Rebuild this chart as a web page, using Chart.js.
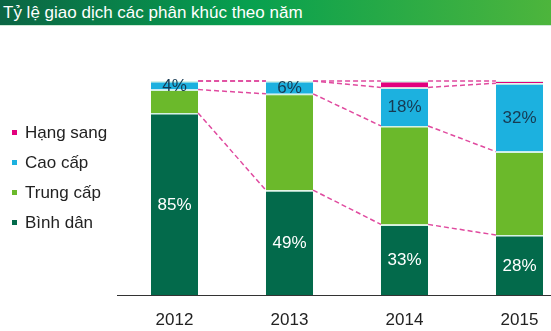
<!DOCTYPE html>
<html>
<head>
<meta charset="utf-8">
<script src="https://cdn.jsdelivr.net/npm/chart.js@4/dist/chart.umd.min.js"></script>
<style>
  html, body { margin: 0; padding: 0; background: #fff; }
  #wrap { position: relative; width: 551px; height: 331px; overflow: hidden; font-family: "Liberation Sans", Arial, sans-serif; }
  #title {
    position: absolute; left: 0; top: 0; width: 551px; height: 26px; z-index: 2;
    background: linear-gradient(to right, #0b6544 0%, #07a04f 45%, #4db53c 100%);
    color: #fff; font-size: 17px; line-height: 26px; padding-left: 3px; box-sizing: border-box;
    border-bottom: 1px solid #cfe9d6;
  }
  #legend { position: absolute; left: 12px; top: 123px; z-index: 2; }
  #legend div { height: 30px; line-height: 20px; font-size: 17px; color: #222; white-space: nowrap; }
  #legend span { display: inline-block; width: 5px; height: 5px; margin-right: 8px; vertical-align: 3px; }
  canvas { position: absolute; left: 0; top: 0; }
</style>
</head>
<body>
<div id="wrap">
  <div id="title">Tỷ lệ giao dịch các phân khúc theo năm</div>
  <div id="legend"></div>
  <canvas id="chart" width="577" height="331"></canvas>
</div>
<script>
const years = ['2012', '2013', '2014', '2015'];
const binhDan = [85, 49, 33, 28];
const trungCap = [11, 45, 46, 39];
const caoCap = [4, 6, 18, 32];
const hangSang = [0, 0, 3, 1];

const seriesNames = ['Bình dân', 'Trung cấp', 'Cao cấp', 'Hạng sang'];
const seriesColors = ['#036a4b', '#6bb92b', '#1cb1df', '#e2007d'];
// which series get a % label, and in which colour
const labelColors = ['#ffffff', null, '#173a52', null];

// legend (top to bottom = reverse stack order)
const legendEl = document.getElementById('legend');
for (let i = seriesNames.length - 1; i >= 0; i--) {
    const row = document.createElement('div');
    row.innerHTML = '<span style="background:' + seriesColors[i] + '"></span>' + seriesNames[i];
    legendEl.appendChild(row);
}

// dashed connectors between cumulative boundaries of neighbouring bars
const connectors = {
    id: 'connectors',
    afterDatasetsDraw(chart) {
        const ctx = chart.ctx;
        const y = chart.scales.y;
        const n = chart.data.datasets.length;
        ctx.save();
        ctx.strokeStyle = '#e04a9f';
        ctx.lineWidth = 1.5;
        ctx.setLineDash([5, 3]);
        for (let d = 0; d < n; d++) {
            const meta = chart.getDatasetMeta(d);
            for (let i = 0; i < years.length - 1; i++) {
                const a = meta.data[i], b = meta.data[i + 1];
                let cumA = 0, cumB = 0;
                for (let k = 0; k <= d; k++) {
                    cumA += chart.data.datasets[k].data[i];
                    cumB += chart.data.datasets[k].data[i + 1];
                }
                ctx.beginPath();
                ctx.moveTo(a.x + a.width / 2, y.getPixelForValue(cumA));
                ctx.lineTo(b.x - b.width / 2, y.getPixelForValue(cumB));
                ctx.stroke();
            }
        }
        ctx.restore();
    }
};

const segLabels = {
    id: 'segLabels',
    afterDraw(chart) {
        const ctx = chart.ctx;
        ctx.save();
        ctx.font = '17px "Liberation Sans", Arial, sans-serif';
        ctx.textAlign = 'center';
        ctx.textBaseline = 'middle';
        chart.data.datasets.forEach((ds, d) => {
            if (!labelColors[d]) return;
            const meta = chart.getDatasetMeta(d);
            meta.data.forEach((bar, i) => {
                ctx.fillStyle = labelColors[d];
                ctx.fillText(ds.data[i] + '%', bar.x, (bar.y + bar.base) / 2 + 1);
            });
        });
        ctx.restore();
    }
};

const allData = [binhDan, trungCap, caoCap, hangSang];

new Chart(document.getElementById('chart').getContext('2d'), {
    type: 'bar',
    data: {
        labels: years,
        datasets: allData.map((vals, i) => ({
            label: seriesNames[i],
            data: vals,
            backgroundColor: seriesColors[i],
            borderColor: '#d4f2e4',
            borderWidth: { top: 1.5 },
            borderSkipped: false,
            barPercentage: 0.41,
            categoryPercentage: 1
        }))
    },
    options: {
        responsive: false,
        animation: false,
        devicePixelRatio: 1,
        layout: { padding: { left: 117, top: 81, bottom: 0, right: 0 } },
        plugins: { legend: { display: false }, tooltip: { enabled: false } },
        scales: {
            x: {
                stacked: true,
                grid: { display: false },
                border: { display: true, color: '#333', width: 1 },
                ticks: { color: '#222', font: { size: 17, family: '"Liberation Sans", Arial, sans-serif' }, padding: 7, maxRotation: 0 },
                afterFit(scale) { scale.height = 36; }
            },
            y: { stacked: true, display: false, min: 0, max: 100 }
        }
    },
    plugins: [connectors, segLabels]
});
</script>
</body>
</html>
